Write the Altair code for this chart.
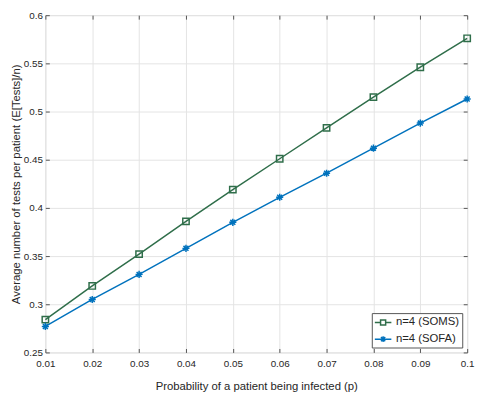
import altair as alt
import pandas as pd

p = [0.01, 0.02, 0.03, 0.04, 0.05, 0.06, 0.07, 0.08, 0.09, 0.10]
soms = [0.284, 0.319, 0.352, 0.386, 0.419, 0.451, 0.483, 0.515, 0.546, 0.576]
sofa = [0.277, 0.305, 0.331, 0.358, 0.385, 0.411, 0.436, 0.462, 0.488, 0.513]
series = ["n=4 (SOMS)", "n=4 (SOFA)"]
colors = ["#2F6E4A", "#0072BD"]
x_ticks = [0.01, 0.02, 0.03, 0.04, 0.05, 0.06, 0.07, 0.08, 0.09, 0.10]
y_ticks = [0.25, 0.3, 0.35, 0.4, 0.45, 0.5, 0.55, 0.6]

rows = []
for xi, a, b in zip(p, soms, sofa):
    rows.append({"p": xi, "v": a, "s": series[0]})
    rows.append({"p": xi, "v": b, "s": series[1]})
df = pd.DataFrame(rows)

FONT = "Liberation Sans"
TXT = "#262626"
BOX = "#555555"

ASTER = "M0,-1L0,1M-1,0L1,0M-0.7,-0.7L0.7,0.7M-0.7,0.7L0.7,-0.7"
LEG_SQ = "M-1.4,0L-0.43,0M0.43,0L1.4,0M-0.43,-0.43L0.43,-0.43L0.43,0.43L-0.43,0.43Z"
LEG_AS = "M-1.4,0L1.4,0M0,-0.5L0,0.5M-0.36,-0.36L0.36,0.36M-0.36,0.36L0.36,-0.36"

xs = alt.Scale(domain=[0.01, 0.1], nice=False)
ys = alt.Scale(domain=[0.25, 0.6], nice=False)
cs = alt.Scale(domain=series, range=colors)

x_axis = alt.Axis(values=x_ticks, format=".2~f", title="Probability of a patient being infected (p)",
                  grid=True, gridColor="#e3e3e3", domain=False, ticks=True, tickSize=4, offset=-4,
                  tickColor=BOX, labelPadding=6, titlePadding=13, labelFontSize=10, titleFontSize=11.5,
                  labelFlush=False, labelColor=TXT, titleColor=TXT, labelFont=FONT, titleFont=FONT,
                  titleFontWeight="normal")
y_axis = alt.Axis(values=y_ticks, format=".2~f", title="Average number of tests per patient (E[Tests]/n)",
                  grid=True, gridColor="#e3e3e3", domain=False, ticks=True, tickSize=4, offset=-4,
                  tickColor=BOX, labelPadding=3, titlePadding=2, labelFontSize=10, titleFontSize=11.5,
                  labelFlush=False, labelColor=TXT, titleColor=TXT, labelFont=FONT, titleFont=FONT,
                  titleFontWeight="normal")

legend = alt.Legend(
    title=None, orient="bottom-right", offset=5, labelFont=FONT, labelFontSize=11.5, labelColor=TXT,
    symbolSize=144, symbolStrokeWidth=1.5, symbolFillColor="transparent", symbolOpacity=1,
    symbolOffset=2, strokeColor=BOX, fillColor="white", padding=2.5, rowPadding=4, labelOffset=6,
    cornerRadius=0,
)

base = alt.Chart(df)
lines = base.mark_line(strokeWidth=1.5).encode(
    x=alt.X("p:Q", scale=xs, axis=x_axis),
    y=alt.Y("v:Q", scale=ys, axis=y_axis),
    color=alt.Color("s:N", scale=cs, legend=None, sort=series),
)
pts = base.mark_point(filled=False, strokeWidth=1.5, opacity=1).encode(
    x=alt.X("p:Q", scale=xs, axis=None),
    y=alt.Y("v:Q", scale=ys, axis=None),
    color=alt.Color("s:N", scale=cs, legend=None),
    shape=alt.Shape("s:N", scale=alt.Scale(domain=series, range=["square", ASTER]), legend=None),
    size=alt.Size("s:N", scale=alt.Scale(domain=series, range=[42, 52]), legend=None),
)

top_axis = alt.Axis(values=x_ticks, orient="top", labels=False, title=None, grid=False, domain=False,
                    ticks=True, tickSize=4, offset=-4, tickColor=BOX)
right_axis = alt.Axis(values=y_ticks, orient="right", labels=False, title=None, grid=False, domain=False,
                      ticks=True, tickSize=4, offset=-4, tickColor=BOX)
frame = base.mark_point(opacity=0, filled=False, strokeWidth=1.5).encode(
    x=alt.X("p:Q", scale=xs, axis=top_axis),
    y=alt.Y("v:Q", scale=ys, axis=right_axis),
    color=alt.Color("s:N", scale=cs, legend=legend, sort=series),
    shape=alt.Shape("s:N", scale=alt.Scale(domain=series, range=[LEG_SQ, LEG_AS]), legend=legend, sort=series),
)

chart = alt.layer(lines, pts, frame).resolve_axis(x="independent", y="independent").resolve_scale(
    color="independent", shape="independent", size="independent"
).properties(
    width=429, height=343,
    autosize=alt.AutoSizeParams(type="none"),
    padding={"left": 38, "top": 4, "right": 10, "bottom": 41},
).configure_view(stroke=BOX, strokeWidth=1).configure(background="white")

chart.save("out.html", embed_options={"renderer": "svg", "actions": False})
